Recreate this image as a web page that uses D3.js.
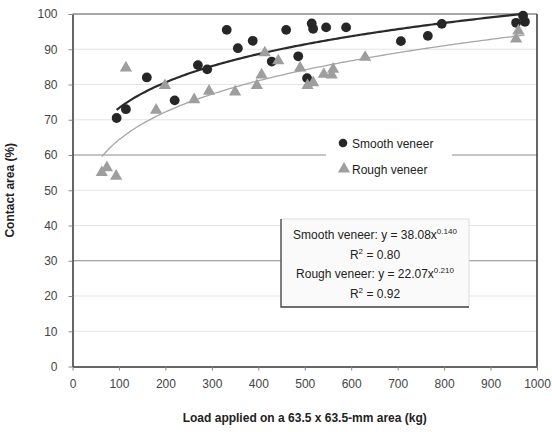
<!DOCTYPE html>
<html>
<head>
<meta charset="utf-8">
<script src="https://cdn.jsdelivr.net/npm/d3@7"></script>
<style>
  body { margin: 0; background: #fff; }
  svg { font-family: "Liberation Sans", Arial, sans-serif; }
</style>
</head>
<body>
<div id="chart"></div>
<script>
// data
const smoothLoad = [95, 115, 160, 220, 270, 290, 332, 356, 388, 429, 460, 486, 505, 515, 518, 546, 589, 707, 765, 795, 955, 970, 974];
const smoothArea = [70.5, 73, 82, 75.5, 85.5, 84.3, 95.5, 90.3, 92.4, 86.5, 95.5, 88, 81.8, 97.3, 95.8, 96.2, 96.2, 92.3, 93.8, 97.2, 97.5, 99.5, 97.8];
const roughLoad = [63, 74, 94, 115, 180, 199, 262, 294, 350, 397, 407, 414, 443, 490, 506, 518, 541, 558, 561, 630, 955, 960];
const roughArea = [55.3, 56.7, 54.3, 85, 73, 80, 76, 78.4, 78.2, 80, 83, 89.3, 87, 85, 80, 80.8, 83.2, 83, 84.6, 88, 93.2, 95.5];

// power trend lines y = a * x^b (as drawn)
const smoothFit = { a: 39.0, b: 0.137, from: 95, to: 974 };
const roughFit = { a: 29.8, b: 0.167, from: 63, to: 975 };

const xTicks = [0, 100, 200, 300, 400, 500, 600, 700, 800, 900, 1000];
const yTicks = [0, 10, 20, 30, 40, 50, 60, 70, 80, 90, 100];
const strongGrid = [30, 60];

const equationLines = [
  { text: "Smooth veneer: y = 38.08x", sup: "0.140" },
  { text: "R", sup: "2", tail: " = 0.80" },
  { text: "Rough veneer: y = 22.07x", sup: "0.210" },
  { text: "R", sup: "2", tail: " = 0.92" }
];

const width = 552, height = 432;
const margin = { top: 14, right: 15, bottom: 65.5, left: 72.5 };

const svg = d3.select("#chart")
  .append("svg")
    .attr("width", width)
    .attr("height", height);

const x = d3.scaleLinear().domain([0, 1000]).range([margin.left, width - margin.right]);
const y = d3.scaleLinear().domain([0, 100]).range([height - margin.bottom, margin.top]);

// gridlines
svg.append("g")
  .selectAll("line")
  .data(yTicks.filter(d => d > 0 && d < 100))
  .join("line")
    .attr("x1", x(0))
    .attr("x2", x(1000))
    .attr("y1", d => y(d))
    .attr("y2", d => y(d))
    .attr("stroke", d => strongGrid.includes(d) ? "#8c8c8c" : "#e4e4e4")
    .attr("stroke-width", 1.2);

// plot frame: top is light, right dark
svg.append("line")
  .attr("x1", x(0)).attr("x2", x(1000))
  .attr("y1", y(100)).attr("y2", y(100))
  .attr("stroke", "#a8a8a8").attr("stroke-width", 2);
svg.append("line")
  .attr("x1", x(1000)).attr("x2", x(1000))
  .attr("y1", y(100)).attr("y2", y(0))
  .attr("stroke", "#333").attr("stroke-width", 1.5);

// axes
const xAxis = svg.append("g")
  .attr("transform", `translate(0,${y(0)})`)
  .call(d3.axisBottom(x).tickValues(xTicks).tickFormat(d3.format("d"))
    .tickSize(4).tickSizeOuter(0).tickPadding(9));
const yAxis = svg.append("g")
  .attr("transform", `translate(${x(0)},0)`)
  .call(d3.axisLeft(y).tickValues(yTicks).tickSize(4).tickSizeOuter(0).tickPadding(11));

[xAxis, yAxis].forEach(g => {
  g.select(".domain").attr("stroke", "#333").attr("stroke-width", 1.5);
  g.selectAll(".tick line").attr("stroke", "#888");
  g.selectAll(".tick text")
    .attr("fill", "#444")
    .style("font-size", "12px")
    .style("font-family", "Liberation Sans, Arial, sans-serif");
});

// axis titles
svg.append("text")
  .attr("x", (x(0) + x(1000)) / 2)
  .attr("y", 422)
  .attr("text-anchor", "middle")
  .attr("font-weight", "bold")
  .attr("font-size", 12)
  .attr("fill", "#222")
  .text("Load applied on a 63.5 x 63.5-mm area (kg)");

svg.append("text")
  .attr("transform", `translate(14,${(y(0) + y(100)) / 2}) rotate(-90)`)
  .attr("text-anchor", "middle")
  .attr("font-weight", "bold")
  .attr("font-size", 12)
  .attr("fill", "#222")
  .text("Contact area (%)");

// trend lines
const trend = fit => d3.range(fit.from, fit.to + 1, 5).map(v => [v, fit.a * Math.pow(v, fit.b)]);
const line = d3.line().x(d => x(d[0])).y(d => y(d[1]));

svg.append("path")
  .attr("d", line(trend(roughFit)))
  .attr("fill", "none")
  .attr("stroke", "#a6a6a6")
  .attr("stroke-width", 1.3);

svg.append("path")
  .attr("d", line(trend(smoothFit)))
  .attr("fill", "none")
  .attr("stroke", "#2a2a2a")
  .attr("stroke-width", 2.2);

// points
const tri = d3.symbol().type(d3.symbolTriangle).size(65);

svg.append("g")
  .selectAll("circle")
  .data(smoothLoad.map((v, i) => [v, smoothArea[i]]))
  .join("circle")
    .attr("cx", d => x(d[0]))
    .attr("cy", d => y(d[1]))
    .attr("r", 4.9)
    .attr("fill", "#262626");

svg.append("g")
  .selectAll("path")
  .data(roughLoad.map((v, i) => [v, roughArea[i]]))
  .join("path")
    .attr("d", tri)
    .attr("transform", d => `translate(${x(d[0])},${y(d[1]) + 1})`)
    .attr("fill", "#9e9e9e");

// legend
const legend = svg.append("g");
legend.append("rect")
  .attr("x", 326).attr("y", 131)
  .attr("width", 126).attr("height", 50)
  .attr("fill", "#fff");
legend.append("circle")
  .attr("cx", 343).attr("cy", 143).attr("r", 4.3)
  .attr("fill", "#262626");
legend.append("path")
  .attr("d", tri)
  .attr("transform", "translate(344,169)")
  .attr("fill", "#9e9e9e");
legend.selectAll("text")
  .data(["Smooth veneer", "Rough veneer"])
  .join("text")
    .attr("x", 352)
    .attr("y", (d, i) => 147.5 + i * 26)
    .attr("font-size", 12)
    .attr("fill", "#222")
    .text(d => d);

// equation box
const box = svg.append("g");
box.append("rect")
  .attr("x", 281).attr("y", 219)
  .attr("width", 188).attr("height", 88)
  .attr("fill", "#fafafa")
  .attr("stroke", "#ddd");
box.append("path")
  .attr("d", "M281,219V307H469")
  .attr("fill", "none")
  .attr("stroke", "#444")
  .attr("stroke-width", 1.3);

const eq = box.selectAll("text")
  .data(equationLines)
  .join("text")
    .attr("x", 375)
    .attr("y", (d, i) => 239 + i * 19.7)
    .attr("text-anchor", "middle")
    .attr("font-size", 12)
    .attr("fill", "#222");
eq.append("tspan").text(d => d.text);
eq.append("tspan")
  .attr("dy", -5)
  .attr("font-size", 8)
  .text(d => d.sup);
eq.filter(d => d.tail)
  .append("tspan")
  .attr("dy", 5)
  .text(d => d.tail);
</script>
</body>
</html>
